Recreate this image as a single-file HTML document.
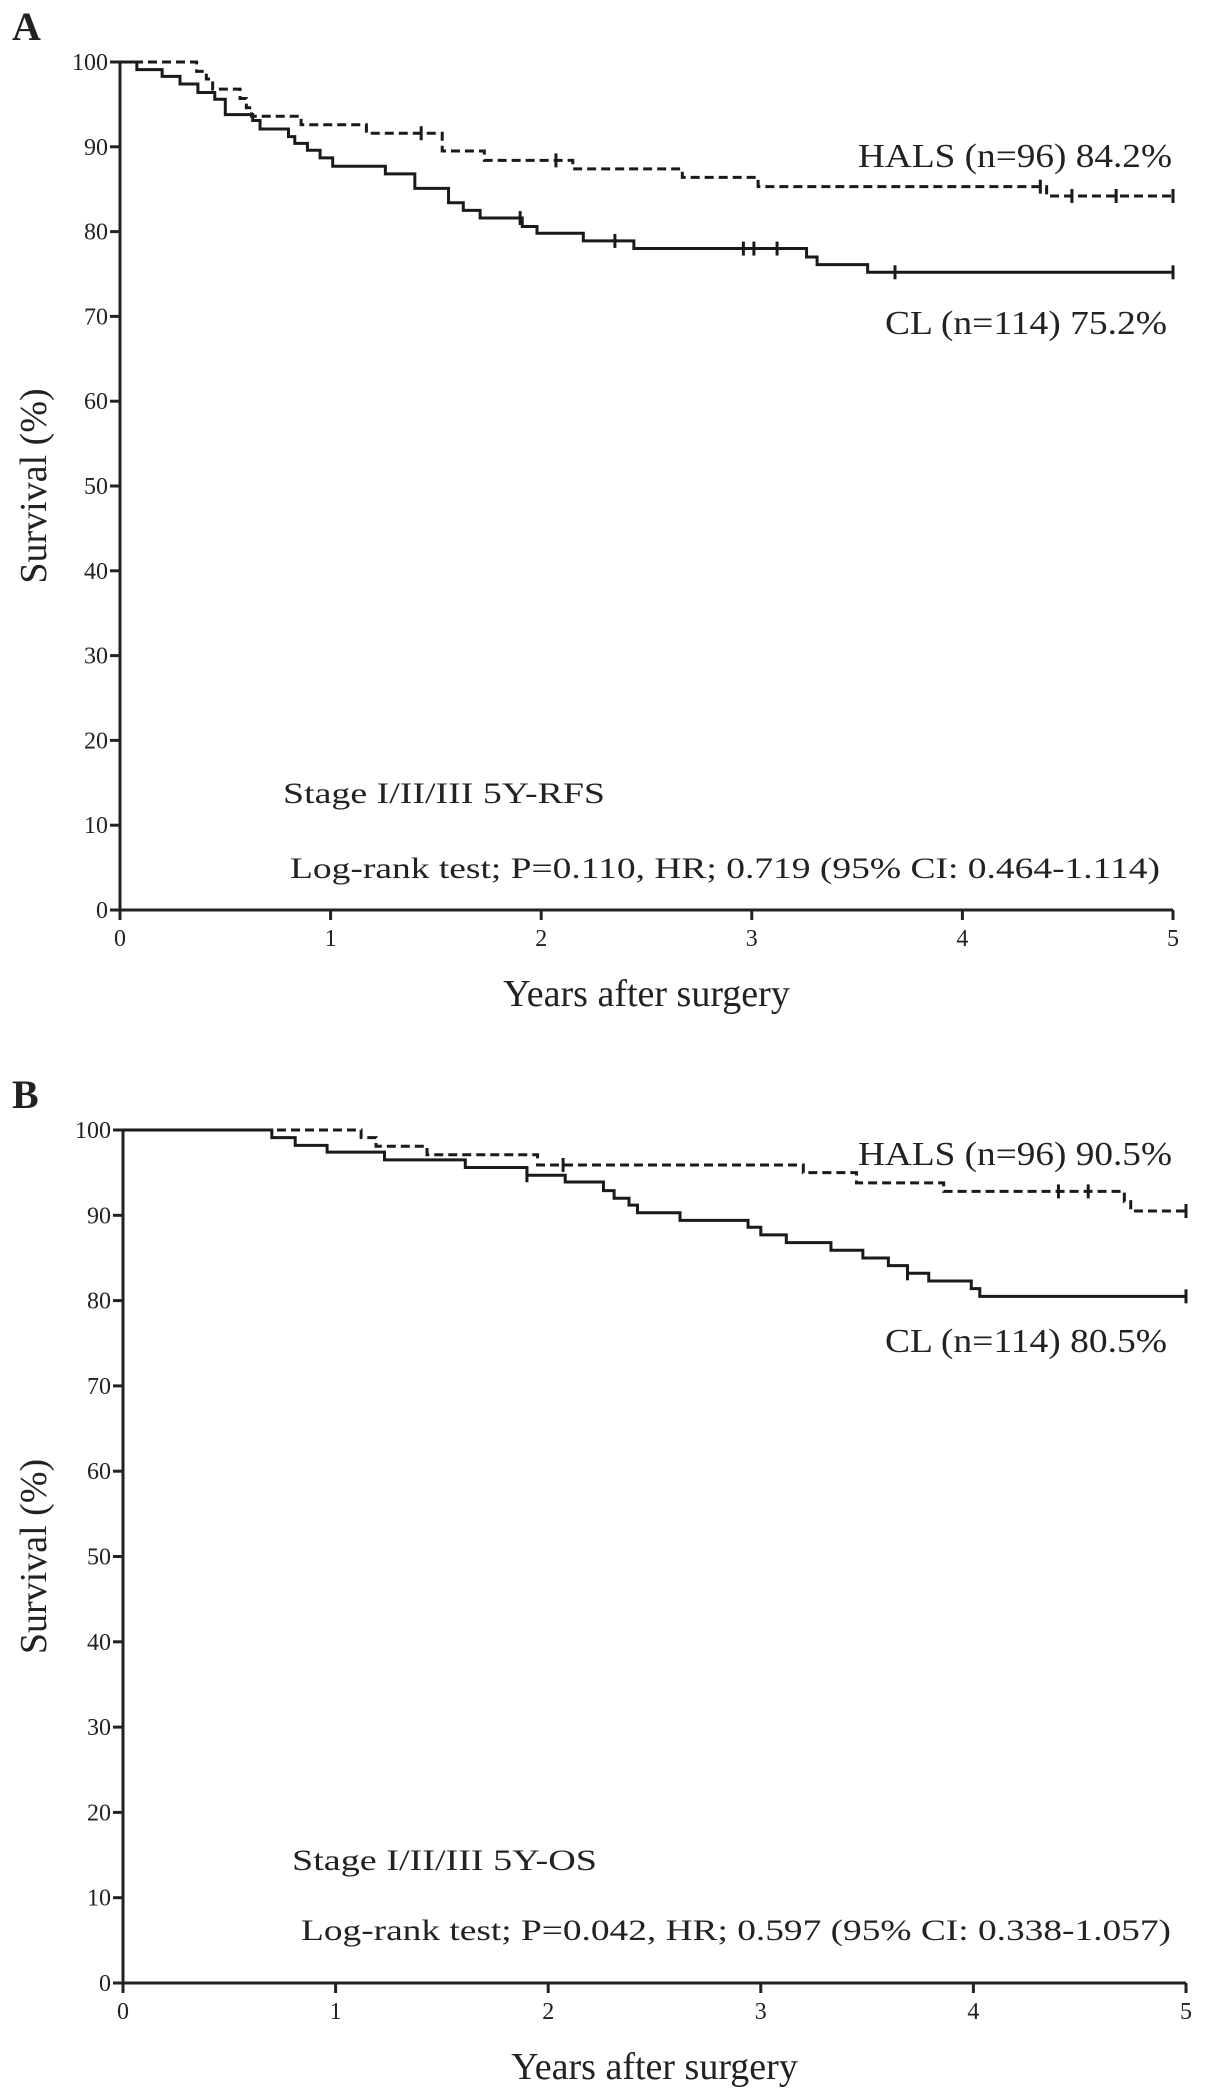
<!DOCTYPE html>
<html><head><meta charset="utf-8"><style>
html,body{margin:0;padding:0;background:#fff;}
svg{display:block;}
text{font-family:"Liberation Serif",serif;fill:#222;}
</style></head><body>
<svg id="fig" width="1205" height="2094" viewBox="0 0 1205 2094"></svg>
<script>
// Panel A: 5Y-RFS
const A_clTimes = [0, 0.08, 0.20, 0.285, 0.37, 0.45, 0.50, 0.63, 0.665, 0.80, 0.83, 0.89, 0.95, 1.01, 1.26, 1.40, 1.56, 1.63, 1.71, 1.91, 1.98, 2.20, 2.44, 3.26, 3.31, 3.55];
const A_clSurv  = [100, 99.1, 98.3, 97.4, 96.4, 95.6, 93.8, 93.1, 92.1, 91.2, 90.4, 89.6, 88.7, 87.7, 86.8, 85.1, 83.4, 82.5, 81.6, 80.6, 79.8, 78.9, 78.0, 77.0, 76.1, 75.2];
const A_clCensor = [1.90, 2.35, 2.96, 3.01, 3.12, 3.68, 5.0];
const A_halsTimes = [0, 0.364, 0.41, 0.44, 0.57, 0.60, 0.625, 0.86, 1.17, 1.53, 1.73, 2.15, 2.67, 3.03, 4.40];
const A_halsSurv  = [100, 98.9, 98.0, 96.8, 95.7, 94.6, 93.6, 92.6, 91.6, 89.5, 88.4, 87.4, 86.4, 85.3, 84.2];
const A_halsCensor = [1.43, 2.07, 4.37, 4.52, 4.73, 5.0];
// Panel B: 5Y-OS
const B_clTimes = [0, 0.70, 0.81, 0.96, 1.23, 1.61, 1.90, 2.08, 2.26, 2.31, 2.38, 2.42, 2.62, 2.94, 3.00, 3.12, 3.33, 3.48, 3.60, 3.69, 3.79, 3.99, 4.03];
const B_clSurv  = [100, 99.1, 98.2, 97.4, 96.5, 95.6, 94.7, 93.9, 92.9, 92.0, 91.2, 90.3, 89.4, 88.6, 87.7, 86.8, 85.9, 85.0, 84.1, 83.2, 82.3, 81.4, 80.5];
const B_clCensor = [1.90, 3.69, 5.0];
const B_halsTimes = [0, 1.12, 1.19, 1.43, 1.95, 3.20, 3.45, 3.86, 4.71, 4.74];
const B_halsSurv  = [100, 99.1, 98.1, 97.1, 95.9, 95.0, 93.8, 92.8, 91.6, 90.5];
const B_halsCensor = [2.07, 4.40, 4.54, 5.0];
const xTicks = [0, 1, 2, 3, 4, 5];
const yTicks = [0, 10, 20, 30, 40, 50, 60, 70, 80, 90, 100];

const NS = "http://www.w3.org/2000/svg";
const svg = document.getElementById('fig');
function mk(tag, attrs, parent, txt){
  const e = document.createElementNS(NS, tag);
  for (const k in attrs) e.setAttribute(k, attrs[k]);
  if (txt !== undefined) e.textContent = txt;
  (parent || svg).appendChild(e);
  return e;
}

function panel(cfg){
  const g = mk('g', {});
  
  
  const X = t => cfg.x0 + (cfg.x5 - cfg.x0) * t / 5;
  const Y = v => cfg.y0 + (cfg.y100 - cfg.y0) * v / 100;

  const letter = mk('text', {x: 12, y: cfg.letterY, 'font-size': 40, 'font-weight': 'bold', fill: '#111'}, g, cfg.letter);
  
  

  const yAx = mk('line', {x1: cfg.x0, y1: cfg.y0, x2: cfg.x0, y2: cfg.y100, stroke: '#222', 'stroke-width': 3}, g);
  
  
  const xAx = mk('line', {x1: cfg.x0, y1: cfg.y0, x2: cfg.x5, y2: cfg.y0, stroke: '#222', 'stroke-width': 3}, g);
  
  

  yTicks.forEach(v => {
    const tk = mk('line', {x1: cfg.x0 - 10, y1: Y(v), x2: cfg.x0, y2: Y(v), stroke: '#222', 'stroke-width': 3}, g);
    
    
    const lb = mk('text', {x: cfg.x0 - 12, y: Y(v) + 8, 'font-size': 24, 'text-anchor': 'end'}, g, String(v));
    
    
  });
  xTicks.forEach(t => {
    const tk = mk('line', {x1: X(t), y1: cfg.y0, x2: X(t), y2: cfg.y0 + 10, stroke: '#222', 'stroke-width': 3}, g);
    
    
    const lb = mk('text', {x: X(t), y: cfg.y0 + 36, 'font-size': 24, 'text-anchor': 'middle'}, g, String(t));
    
    
  });

  const xt = mk('text', {x: (cfg.x0 + cfg.x5) / 2, y: cfg.y0 + 96, 'font-size': 38, 'text-anchor': 'middle'}, g, 'Years after surgery');
  
  
  const cy = (cfg.y0 + cfg.y100) / 2;
  const yt = mk('text', {x: 0, y: 0, 'font-size': 38, 'text-anchor': 'middle', transform: `translate(46,${cy}) rotate(-90)`}, g, 'Survival (%)');
  
  

  function curve(times, surv, censor, dashed, name){
    let d = `M${X(times[0])},${Y(surv[0])}`;
    for (let i = 1; i < times.length; i++){
      d += ` H${X(times[i])} V${Y(surv[i])}`;
    }
    d += ` H${X(5)}`;
    const p = mk('path', {d: d, fill: 'none', stroke: '#1a1a1a', 'stroke-width': 3, 'stroke-dasharray': dashed ? '9,5' : 'none'}, g);
    
    
    censor.forEach(t => {
      let v = surv[0];
      for (let i = 0; i < times.length; i++) if (times[i] <= t) v = surv[i];
      const c = mk('line', {x1: X(t), y1: Y(v) - 7, x2: X(t), y2: Y(v) + 7, stroke: '#1a1a1a', 'stroke-width': 3}, g);
      
      
    });
  }
  curve(cfg.halsT, cfg.halsS, cfg.halsC, true, 'hals');
  curve(cfg.clT, cfg.clS, cfg.clC, false, 'cl');

  const t1 = mk('text', {x: 858, y: cfg.halsLabelY, 'font-size': 34, textLength: 314, lengthAdjust: 'spacingAndGlyphs'}, g, cfg.halsLabel);
  
  
  const t2 = mk('text', {x: 885, y: cfg.clLabelY, 'font-size': 34, textLength: 282, lengthAdjust: 'spacingAndGlyphs'}, g, cfg.clLabel);
  
  
  const t3 = mk('text', {x: cfg.stageX, y: cfg.stageY, 'font-size': 30, textLength: cfg.stageW, lengthAdjust: 'spacingAndGlyphs'}, g, cfg.stage);
  
  
  const t4 = mk('text', {x: cfg.logX, y: cfg.logY, 'font-size': 30, textLength: cfg.logW, lengthAdjust: 'spacingAndGlyphs'}, g, cfg.log);
  
  
}

panel({id: 'a', letter: 'A', letterY: 40, x0: 120, x5: 1173, y0: 910, y100: 62,
  clT: A_clTimes, clS: A_clSurv, clC: A_clCensor, halsT: A_halsTimes, halsS: A_halsSurv, halsC: A_halsCensor,
  halsLabel: 'HALS (n=96) 84.2%', halsLabelY: 167, clLabel: 'CL (n=114) 75.2%', clLabelY: 334,
  stage: 'Stage I/II/III 5Y-RFS', stageX: 283, stageY: 803, stageW: 322,
  log: 'Log-rank test; P=0.110, HR; 0.719 (95% CI: 0.464-1.114)', logX: 290, logY: 878, logW: 870});
panel({id: 'b', letter: 'B', letterY: 1108, x0: 123, x5: 1186, y0: 1983, y100: 1130,
  clT: B_clTimes, clS: B_clSurv, clC: B_clCensor, halsT: B_halsTimes, halsS: B_halsSurv, halsC: B_halsCensor,
  halsLabel: 'HALS (n=96) 90.5%', halsLabelY: 1165, clLabel: 'CL (n=114) 80.5%', clLabelY: 1352,
  stage: 'Stage I/II/III 5Y-OS', stageX: 292, stageY: 1870, stageW: 305,
  log: 'Log-rank test; P=0.042, HR; 0.597 (95% CI: 0.338-1.057)', logX: 301, logY: 1940, logW: 870});
</script>
</body></html>
